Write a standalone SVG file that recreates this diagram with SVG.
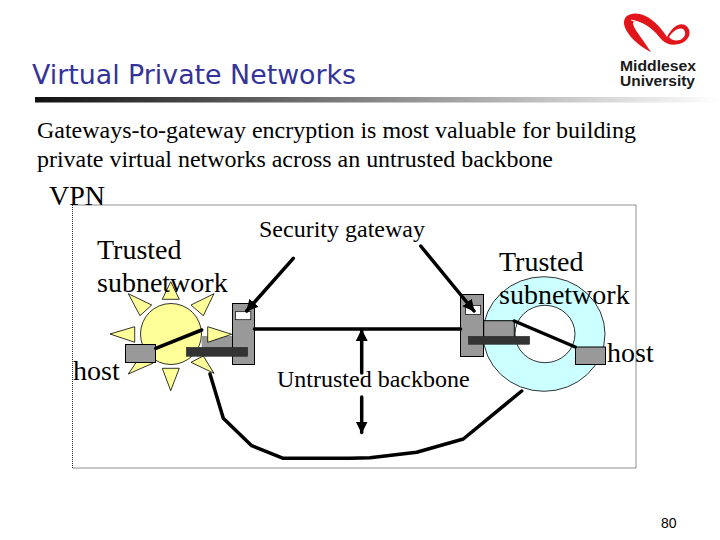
<svg xmlns="http://www.w3.org/2000/svg" width="720" height="540" viewBox="0 0 720 540">
<defs>
<linearGradient id="bar" x1="0" x2="1" y1="0" y2="0"><stop offset="0" stop-color="#111"/><stop offset="1" stop-color="#fff"/></linearGradient>
<marker id="ah" markerUnits="userSpaceOnUse" markerWidth="14" markerHeight="14" refX="11" refY="6" orient="auto"><path d="M0,0L12,6L0,12z" fill="#000"/></marker>
</defs>
<style>
.s{font-family:"Liberation Serif","Times New Roman",serif;fill:#000}
.t28{font-size:28px}
.t24{font-size:24px}
.t23{font-size:23px}
.l{fill:none;stroke:#000;stroke-width:3.5;stroke-linejoin:round;stroke-linecap:round}
.g{fill:#999;stroke:#000;stroke-width:1}
.d{fill:#333;stroke:#222;stroke-width:.5}
.w{fill:#fff;stroke:#000;stroke-width:.7}
.ray{fill:#ffff99;stroke:#000;stroke-width:.8}
</style>
<rect width="720" height="540" fill="#fff"/>
<g id="header">
<text x="32" y="84" font-family="'Comic Sans MS','DejaVu Sans',sans-serif" font-size="26" fill="#33339a" textLength="324" lengthAdjust="spacingAndGlyphs">Virtual Private Networks</text>
<rect x="35" y="97" width="685" height="5.500" fill="url(#bar)"/>
</g>
<g id="logo">
<path d="M651,52C640,47 626,35 624,24C623,15 632,12 640,14C652,17 661,28 667,37C671,29 678,22 685,25C692,29 691,39 682,43C674,46 667,45 662,40C655,32 646,22 634,21C630,25 640,35 651,52Z" fill="#e2151b"/>
<path d="M669,37C673,31 678,27 683,29C687,32 685,38 680,40C675,41 671,40 669,37Z" fill="#fff"/>
<path d="M631,20C642,22 655,30 659,38" fill="none" stroke="#fff" stroke-width="1"/>
<text x="620" y="71" font-family="'Liberation Sans',Arial,sans-serif" font-weight="700" font-size="14.500" textLength="76" lengthAdjust="spacingAndGlyphs" fill="#1a1a1a">Middlesex</text>
<text x="620" y="86" font-family="'Liberation Sans',Arial,sans-serif" font-weight="700" font-size="14.500" textLength="75" lengthAdjust="spacingAndGlyphs" fill="#1a1a1a">University</text>
</g>
<g id="intro">
<text class="s t23" x="37" y="138" textLength="599" lengthAdjust="spacingAndGlyphs">Gateways-to-gateway encryption is most valuable for building</text>
<text class="s t23" x="37" y="167" textLength="516" lengthAdjust="spacingAndGlyphs">private virtual networks across an untrusted backbone</text>
</g>
<g id="vpn-frame">
<rect x="72.500" y="205" width="563.500" height="263" fill="none" stroke="#222" stroke-width="1" stroke-dasharray="1 1"/>
</g>
<g id="subnet-left">
<circle cx="171" cy="334" r="30.500" fill="#ffff99" stroke="#000" stroke-width=".8"/>
<polygon class="ray" points="170.700,281.700 162.300,299.300 179.300,299.300"/>
<polygon class="ray" points="214,293.700 191,305 203.300,315.700"/>
<polygon class="ray" points="214,373.300 191,362.300 203.300,356"/>
<polygon class="ray" points="170.700,390.700 162.300,368.300 179.300,368.300"/>
<polygon class="ray" points="128.300,374 152.700,363.300 140,356.700"/>
<polygon class="ray" points="110,334 134.700,326.700 134.700,342.300"/>
<polygon class="ray" points="128.300,293.700 151.700,305 140,315.700"/>
</g>
<g id="subnet-right">
<ellipse cx="544" cy="334" rx="61" ry="57.300" fill="#ccffff" stroke="#000" stroke-width=".8"/>
<ellipse cx="545" cy="334" rx="30" ry="28.700" fill="#fff" stroke="#000" stroke-width=".8"/>
</g>
<g id="gateway-left">
<rect x="201.700" y="336" width="31" height="14" fill="#999"/>
<polygon class="ray" points="231.700,334.300 207.700,326.700 207.700,342.300"/>
<rect class="g" x="232.500" y="303.500" width="22" height="61"/>
<rect class="w" x="235.500" y="311.700" width="15.300" height="8"/>
<rect class="d" x="186.300" y="347.300" width="61.400" height="9"/>
</g>
<g id="gateway-right">
<rect class="g" x="483.700" y="320.700" width="30.600" height="22"/>
<rect class="g" x="460.500" y="294.500" width="23" height="62"/>
<rect class="w" x="465.500" y="305.500" width="15.200" height="9"/>
<rect class="d" x="468.300" y="336.300" width="61.400" height="8"/>
</g>
<g id="host-left"><rect class="g" x="125.500" y="344.500" width="30" height="18"/></g>
<g id="host-right"><rect class="g" x="575.500" y="347" width="30" height="17.500"/></g>
<g id="connectors">
<line class="l" x1="155.700" y1="348.300" x2="201.700" y2="330"/>
<line class="l" x1="514.300" y1="321" x2="575.300" y2="347"/>
<line class="l" x1="254.500" y1="329" x2="460.500" y2="329" stroke-linecap="butt"/>
<line class="l" x1="293.300" y1="258.300" x2="246.700" y2="311" marker-end="url(#ah)"/>
<line class="l" x1="420.700" y1="246" x2="474" y2="311" marker-end="url(#ah)"/>
<line class="l" x1="361.700" y1="373" x2="361.700" y2="330" marker-end="url(#ah)"/>
<line class="l" x1="361.700" y1="397" x2="361.700" y2="432.500" marker-end="url(#ah)"/>
<polyline class="l" points="210,374 223.300,418.300 251.700,445.700 283.300,458.300 350,458.300 370,457.700 416.700,452.300 463.300,439 521.700,391"/>
</g>
<g id="labels">
<text class="s t28" x="49" y="205">VPN</text>
<text class="s t28" x="97" y="259">Trusted</text>
<text class="s t28" x="97" y="292">subnetwork</text>
<text class="s t28" x="73" y="380">host</text>
<text class="s t24" x="259" y="237">Security gateway</text>
<text class="s t24" x="277" y="387">Untrusted backbone</text>
<text class="s t28" x="499" y="271">Trusted</text>
<text class="s t28" x="499" y="304">subnetwork</text>
<text class="s t28" x="607" y="362">host</text>
<text x="661" y="528" font-family="'Liberation Sans',Arial,sans-serif" font-size="14" fill="#000">80</text>
</g>
</svg>
